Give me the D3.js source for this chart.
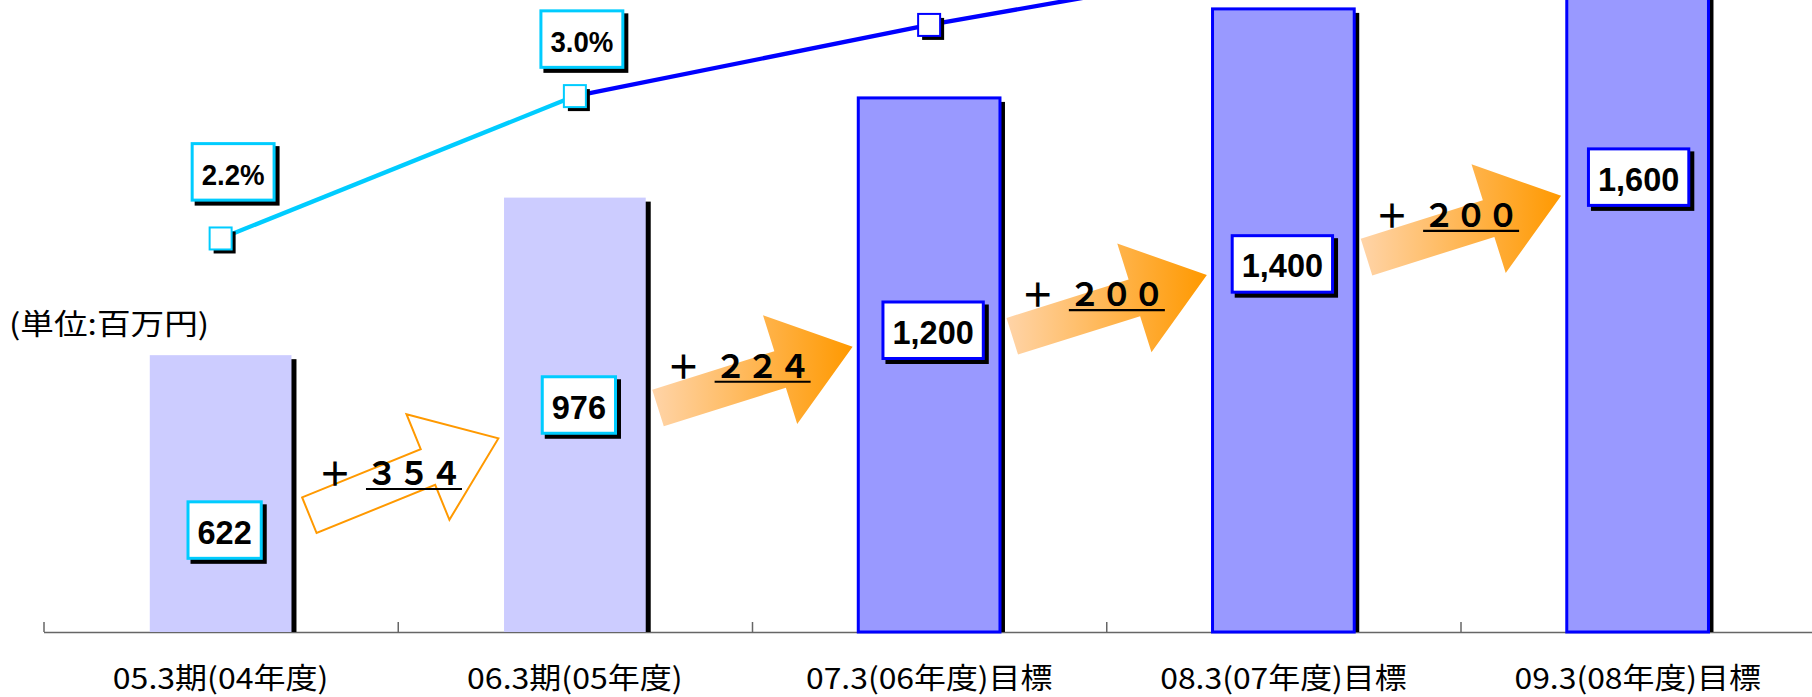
<!DOCTYPE html>
<html><head><meta charset="utf-8">
<script src="https://cdn.jsdelivr.net/npm/d3@7"></script>
<style>html,body{margin:0;padding:0;background:#fff;overflow:hidden}svg{display:block}</style>
</head><body>
<svg id="chart" width="1812" height="697"></svg>
<script>
// ---------- data ----------
const categories = ["05.3期(04年度)", "06.3期(05年度)", "07.3(06年度)目標", "08.3(07年度)目標", "09.3(08年度)目標"];
const sales = [622, 976, 1200, 1400, 1600];          // 百万円
const ratio = [2.2, 3.0, 3.4, 3.75, 4.1];             // %
const isTarget = [false, false, true, true, true];
const unitLabel = "(単位:百万円)";

// ---------- layout (not data) ----------
const W = 1812, H = 697;
const baseY = 632;
const valueLabelLevel = [229, 510, 678, 827, 1022];   // box centre, in sales units
const valueLabelDX = [4, 4, 4, -1, 1];
const pctLabelOffset = [[12.5, -66.6], [7, -57], [7, -60], [7, -60], [7, -60]];
const arrowTailLevel = [258, 504, 665, 843];
const arrowTipLevel = [435, 641, 802, 980];

const C = {
  light: "#CCCCFF", dark: "#9999FF", blue: "#0000FF", cyan: "#00CCFF",
  orange: "#FF9900", peach: "#FFD4A8"
};
const FONT_CJK = "'Noto Sans CJK JP', 'Noto Sans CJK SC', sans-serif";
const FONT_NUM = "'Liberation Sans', Arial, sans-serif";

const svg = d3.select("#chart");
const defs = svg.append("defs");
const grad = defs.append("linearGradient").attr("id", "arrowGrad")
  .attr("x1", 0).attr("y1", 0).attr("x2", 1).attr("y2", 0);
grad.append("stop").attr("offset", 0).attr("stop-color", C.peach);
grad.append("stop").attr("offset", 1).attr("stop-color", C.orange);

// ---------- scales ----------
const x = d3.scaleBand().domain(categories)
  .range([43.5, 43.5 + 5 * 354.25]).paddingInner(0.6).paddingOuter(0.3);
const y = d3.scaleLinear().domain([0, 1420]).range([baseY, 0]);
const yr = d3.scaleLinear().domain([0, 3.54]).range([630, 0]);
const bw = x.bandwidth();
const cx = i => x(categories[i]) + bw / 2;
const gap = (x.step() - bw) / 2;
const xb = d3.scaleLinear().domain([0, categories.length])
  .range([x(categories[0]) - gap, x(categories[0]) - gap + categories.length * x.step()]);

// ---------- axis ----------
const axisG = svg.append("g").attr("transform", `translate(0,${baseY})`)
  .call(d3.axisBottom(xb).tickValues(d3.range(categories.length + 1))
    .tickSizeInner(-10).tickSizeOuter(0).tickFormat(""));
axisG.selectAll("path,line").attr("stroke", "#666").attr("stroke-width", 1.5);

function emWidth(s) { let w = 0; for (const ch of s) w += ch.charCodeAt(0) < 0x2000 ? 0.5 : 1; return w; }

const labG = svg.append("g").attr("transform", `translate(0,${baseY})`)
  .call(d3.axisBottom(x).tickSize(0));
labG.select(".domain").remove();
labG.selectAll("text")
  .attr("y", 57).attr("dy", null)
  .attr("font-family", FONT_CJK).attr("font-size", 29).attr("fill", "#000")
  .attr("textLength", d => emWidth(d) * 30.8).attr("lengthAdjust", "spacingAndGlyphs");

// unit label
svg.append("text").attr("x", 9).attr("y", 335)
  .attr("font-family", FONT_CJK).attr("font-size", 29)
  .attr("textLength", emWidth(unitLabel) * 30.8).attr("lengthAdjust", "spacingAndGlyphs")
  .text(unitLabel);

// ---------- bars ----------
const barG = svg.append("g");
barG.selectAll("rect.sh").data(sales).join("rect").attr("class", "sh")
  .attr("x", (d, i) => x(categories[i]) + 5).attr("y", d => y(d) + 4)
  .attr("width", bw).attr("height", d => baseY - y(d) - 4).attr("fill", "#000");
barG.selectAll("rect.bar").data(sales).join("rect").attr("class", "bar")
  .attr("x", (d, i) => x(categories[i])).attr("y", d => y(d))
  .attr("width", bw).attr("height", d => baseY - y(d))
  .attr("fill", (d, i) => isTarget[i] ? C.dark : C.light)
  .attr("stroke", (d, i) => isTarget[i] ? C.blue : "none")
  .attr("stroke-width", 3);

// ---------- arrows ----------
const A = { len: 204, shaftLen: 128, shaftHalf: 19.2, headHalf: 57 };
const arrowG = svg.append("g");
const deltas = d3.range(sales.length - 1).map(i => ({
  i, delta: sales[i + 1] - sales[i],
  tail: [cx(i) + 0.237 * x.step(), y(arrowTailLevel[i])],
  tip: [cx(i + 1) - 0.216 * x.step(), y(arrowTipLevel[i])]
}));
deltas.forEach(a => {
  const dx = a.tip[0] - a.tail[0], dy = a.tip[1] - a.tail[1];
  const L = Math.hypot(dx, dy), ux = dx / L, uy = dy / L, nx = -uy, ny = ux;
  const o = [a.tip[0] - ux * A.len, a.tip[1] - uy * A.len];
  const at = (s, t) => [o[0] + ux * s + nx * t, o[1] + uy * s + ny * t];
  a.origin = o;
  a.pts = [at(0, -A.shaftHalf), at(A.shaftLen, -A.shaftHalf), at(A.shaftLen, -A.headHalf),
           at(A.len, 0), at(A.shaftLen, A.headHalf), at(A.shaftLen, A.shaftHalf), at(0, A.shaftHalf)];
});
arrowG.selectAll("path").data(deltas).join("path")
  .attr("d", d => d3.line()(d.pts) + "Z")
  .attr("fill", d => isTarget[d.i + 1] ? "url(#arrowGrad)" : "#fff")
  .attr("stroke", d => isTarget[d.i + 1] ? "none" : C.orange)
  .attr("stroke-width", 2);

const toFull = s => String(s).replace(/[0-9]/g, c => String.fromCharCode(c.charCodeAt(0) + 0xFEE0));
const dG = svg.append("g").attr("font-family", FONT_CJK).attr("fill", "#000");
deltas.forEach(a => {
  const px = a.origin[0] + 25.6, by = a.origin[1] - 30;
  dG.append("text").attr("x", px).attr("y", by + 1).attr("text-anchor", "middle")
    .attr("font-size", 33).attr("font-weight", 700).text("＋");
  const s = toFull(a.delta);
  dG.append("text").attr("x", px + 31).attr("y", by)
    .attr("font-size", 32).attr("font-weight", 700).text(s);
  dG.append("line").attr("x1", px + 31).attr("x2", px + 31 + 32 * s.length)
    .attr("y1", by + 3.8).attr("y2", by + 3.8).attr("stroke", "#000").attr("stroke-width", 2.2);
});

// ---------- ratio line ----------
const lineG = svg.append("g");
const pts = ratio.map((r, i) => [cx(i), yr(r)]);
d3.range(1, pts.length).forEach(i => {
  lineG.append("path").attr("d", d3.line()([pts[i - 1], pts[i]]))
    .attr("fill", "none").attr("stroke", isTarget[i] ? C.blue : C.cyan)
    .attr("stroke-width", 4.3);
});
lineG.selectAll("rect.msh").data(pts).join("rect").attr("class", "msh")
  .attr("x", d => d[0] - 11 + 4).attr("y", d => d[1] - 11 + 4)
  .attr("width", 22).attr("height", 22).attr("fill", "#000");
lineG.selectAll("rect.mk").data(pts).join("rect").attr("class", "mk")
  .attr("x", d => d[0] - 11).attr("y", d => d[1] - 11)
  .attr("width", 22).attr("height", 22).attr("fill", "#fff")
  .attr("stroke", (d, i) => isTarget[i] ? C.blue : C.cyan).attr("stroke-width", 2);

// ---------- label boxes ----------
function labelBox(g, cxp, cyp, text, color, font) {
  const t = g.append("text").attr("text-anchor", "middle")
    .attr("font-family", FONT_NUM).attr("font-weight", 700)
    .attr("font-size", font.size).attr("x", cxp).attr("y", cyp + font.base).text(text);
  let tw = t.node().getComputedTextLength();
  if (font.squeeze) { tw *= font.squeeze; t.attr("textLength", tw).attr("lengthAdjust", "spacingAndGlyphs"); }
  const w = tw + 19, h = 56.5;
  g.insert("rect", "text").attr("x", cxp - w / 2 + 4).attr("y", cyp - h / 2 + 4)
    .attr("width", w).attr("height", h).attr("fill", "#000").attr("stroke", "#000").attr("stroke-width", 3);
  g.insert("rect", "text").attr("x", cxp - w / 2).attr("y", cyp - h / 2)
    .attr("width", w).attr("height", h).attr("fill", "#fff").attr("stroke", color).attr("stroke-width", 3);
}
const fmtN = d3.format(",");
const fmtP = r => d3.format(".1f")(r) + "%";
sales.forEach((v, i) => {
  const g = svg.append("g");
  labelBox(g, cx(i) + valueLabelDX[i], y(valueLabelLevel[i]), fmtN(v),
    isTarget[i] ? C.blue : C.cyan, { size: 32.5, base: 13.5 });
});
ratio.forEach((r, i) => {
  const bx = pts[i][0] + pctLabelOffset[i][0], by = pts[i][1] + pctLabelOffset[i][1];
  if (by - 30 < 0) return;   // box lies above the visible plot area
  const g = svg.append("g");
  labelBox(g, bx, by, fmtP(r), isTarget[i] ? C.blue : C.cyan, { size: 30, base: 13, squeeze: 0.92 });
});
</script>
</body></html>
